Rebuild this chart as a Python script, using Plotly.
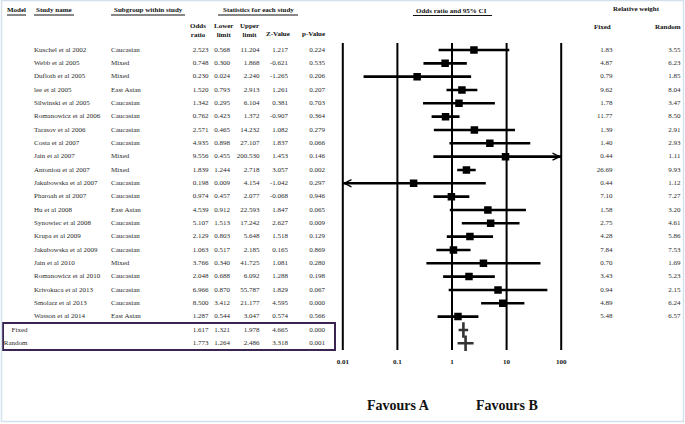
import plotly.graph_objects as go
import math

W, H = 685, 424

studies = ["Kuschel et al 2002", "Webb et al 2005", "Dufloth et al 2005", "lee et al 2005",
           "Silwinski et al 2005", "Romanowicz et al 2006", "Tarasov et al 2006", "Costa et al 2007",
           "Jain et al 2007", "Antoniou et al 2007", "Jakubowska et al 2007", "Pharoah et al 2007",
           "Hu et al 2008", "Synowiec et al 2008", "Krupa et al 2009", "Jakubowska et al 2009",
           "Jain et al 2010", "Romanowicz et al 2010", "Krivokuca et al 2013", "Smolarz et al 2013",
           "Wasson et al 2014"]
subgroups = ["Caucasian", "Mixed", "Mixed", "East Asian", "Caucasian", "Caucasian", "Caucasian",
             "Caucasian", "Mixed", "Mixed", "Caucasian", "Caucasian", "East Asian", "Caucasian",
             "Caucasian", "Caucasian", "Mixed", "Caucasian", "Caucasian", "Caucasian", "East Asian"]
odds_ratio = [2.523, 0.748, 0.230, 1.520, 1.342, 0.762, 2.571, 4.935, 9.556, 1.839, 0.198, 0.974,
              4.539, 5.107, 2.129, 1.063, 3.766, 2.048, 6.966, 8.500, 1.287]
lower_limit = [0.568, 0.300, 0.024, 0.793, 0.295, 0.423, 0.465, 0.898, 0.455, 1.244, 0.009, 0.457,
               0.912, 1.513, 0.803, 0.517, 0.340, 0.688, 0.870, 3.412, 0.544]
upper_limit = [11.204, 1.868, 2.240, 2.913, 6.104, 1.372, 14.232, 27.107, 200.530, 2.718, 4.154,
               2.077, 22.593, 17.242, 5.648, 2.185, 41.725, 6.092, 55.787, 21.177, 3.047]
z_value = [1.217, -0.621, -1.265, 1.261, 0.381, -0.907, 1.082, 1.837, 1.453, 3.057, -1.042, -0.068,
           1.847, 2.627, 1.518, 0.165, 1.081, 1.288, 1.829, 4.595, 0.574]
p_value = [0.224, 0.535, 0.206, 0.207, 0.703, 0.364, 0.279, 0.066, 0.146, 0.002, 0.297, 0.946,
           0.065, 0.009, 0.129, 0.869, 0.280, 0.198, 0.067, 0.000, 0.566]
weight_fixed = [1.83, 4.87, 0.79, 9.62, 1.78, 11.77, 1.39, 1.40, 0.44, 26.69, 0.44, 7.10, 1.58,
                2.75, 4.28, 7.84, 0.70, 3.43, 0.94, 4.89, 5.48]
weight_random = [3.55, 6.23, 1.85, 8.04, 3.47, 8.50, 2.91, 2.93, 1.11, 9.93, 1.12, 7.27, 3.20,
                 4.61, 5.86, 7.53, 1.69, 5.23, 2.15, 6.24, 6.57]

summary_models = ["Fixed", "Random"]
summary_or = [1.617, 1.773]
summary_lower = [1.321, 1.264]
summary_upper = [1.978, 2.486]
summary_z = [4.665, 3.318]
summary_p = [0.000, 0.001]

tick_vals = [0.01, 0.1, 1, 10, 100]
tick_labels = ["0.01", "0.1", "1", "10", "100"]
x_min, x_max = 0.01, 100

# ---- layout geometry (pixels) ----
ROW0, STEP = 50.0, 13.33
FONT = "Liberation Serif, Times New Roman, serif"
TXT = "#2a2a2a"

n = len(studies)
rows = list(range(n))
sum_rows = [n, n + 1]

def px_x(p):
    return p / W

def px_y(p):
    return 1 - p / H

fig = go.Figure()

# ---- table text (x2 axis is pixel-based) ----
def text_col(xpos, rowsy, texts, pos, size=7, bold=False, color=TXT):
    t = [f"<b>{s}</b>" if bold else s for s in texts]
    fig.add_trace(go.Scatter(x=[xpos] * len(rowsy), y=rowsy, text=t, mode="text",
                             textposition=pos, xaxis="x2", yaxis="y", cliponaxis=False,
                             textfont=dict(family=FONT, size=size, color=color),
                             hoverinfo="skip", showlegend=False))

f3 = lambda v: f"{v:.3f}"
f2 = lambda v: f"{v:.2f}"

text_col(34, rows, studies, "middle right")
text_col(111, rows, subgroups, "middle right")
text_col(208.5, rows, [f3(v) for v in odds_ratio], "middle left")
text_col(230, rows, [f3(v) for v in lower_limit], "middle left")
text_col(259.5, rows, [f3(v) for v in upper_limit], "middle left")
text_col(288, rows, [f3(v) for v in z_value], "middle left")
text_col(325, rows, [f3(v) for v in p_value], "middle left")
text_col(612.5, rows, [f2(v) for v in weight_fixed], "middle left")
text_col(680.5, rows, [f2(v) for v in weight_random], "middle left")

text_col(27.5, sum_rows, summary_models, "middle left")
text_col(208.5, sum_rows, [f3(v) for v in summary_or], "middle left")
text_col(230, sum_rows, [f3(v) for v in summary_lower], "middle left")
text_col(259.5, sum_rows, [f3(v) for v in summary_upper], "middle left")
text_col(288, sum_rows, [f3(v) for v in summary_z], "middle left")
text_col(325, sum_rows, [f3(v) for v in summary_p], "middle left")

# ---- forest plot ----
top_row = (43 - ROW0) / STEP
bot_row = (350 - ROW0) / STEP
vx, vy = [], []
for t in tick_vals:
    vx += [t, t, None]
    vy += [top_row, bot_row, None]
fig.add_trace(go.Scatter(x=vx, y=vy, mode="lines", line=dict(color="black", width=2),
                         hoverinfo="skip", showlegend=False))

cx, cy = [], []
for i in rows:
    lo = max(lower_limit[i], x_min)
    hi = min(upper_limit[i], x_max)
    cx += [lo, hi, None]
    cy += [i, i, None]
fig.add_trace(go.Scatter(x=cx, y=cy, mode="lines", line=dict(color="black", width=2.6),
                         hoverinfo="skip", showlegend=False))
fig.add_trace(go.Scatter(x=odds_ratio, y=rows, mode="markers",
                         marker=dict(symbol="square", size=7.5, color="black"),
                         hoverinfo="skip", showlegend=False))

# arrows for clipped CIs
annotations = []
for i in rows:
    if upper_limit[i] > x_max:
        annotations.append(dict(x=math.log10(x_max), y=i, xref="x", yref="y", ax=-7, ay=0,
                                showarrow=True, arrowhead=5, arrowsize=1.4, arrowwidth=1,
                                arrowcolor="black", text=""))
    if lower_limit[i] < x_min:
        annotations.append(dict(x=math.log10(x_min), y=i, xref="x", yref="y", ax=7, ay=0,
                                showarrow=True, arrowhead=5, arrowsize=1.4, arrowwidth=1,
                                arrowcolor="black", text=""))

# summary plus signs
sx, sy = [], []
for k, r in enumerate(sum_rows):
    sx += [summary_lower[k], summary_upper[k], None]
    sy += [r, r, None]
fig.add_trace(go.Scatter(x=sx, y=sy, mode="lines", line=dict(color="#333333", width=2.6),
                         hoverinfo="skip", showlegend=False))
fig.add_trace(go.Scatter(x=summary_or, y=sum_rows, mode="markers",
                         marker=dict(symbol="line-ns", size=11,
                                     line=dict(color="#333333", width=2.6)),
                         hoverinfo="skip", showlegend=False))

# ---- header annotations ----
def hdr(text, xc, yc, size=7, bold=True, xanchor="center"):
    annotations.append(dict(text=f"<b>{text}</b>" if bold else text, x=px_x(xc), y=px_y(yc),
                            xref="paper", yref="paper", showarrow=False, xanchor=xanchor,
                            yanchor="middle", font=dict(family=FONT, size=size, color="#111")))

hdr("Model", 16.5, 10)
hdr("Study name", 53.5, 10)
hdr("Subgroup within study", 148, 10)
hdr("Statistics for each study", 258, 10)
hdr("Odds<br>ratio", 198, 30)
hdr("Lower<br>limit", 223, 30)
hdr("Upper<br>limit", 249.5, 30)
hdr("Z-Value", 278, 34)
hdr("p-Value", 313.5, 34)
hdr("Odds ratio and 95% CI", 452, 11)
hdr("Relative weight", 636, 9)
hdr("Fixed", 602, 27)
hdr("Random", 668, 27)
hdr("Favours A", 398, 405, size=14)
hdr("Favours B", 507, 405, size=14)

shapes = []
def uline(x0, x1, y):
    shapes.append(dict(type="line", xref="paper", yref="paper", x0=px_x(x0), x1=px_x(x1),
                       y0=px_y(y), y1=px_y(y), line=dict(color="#111", width=1)))

uline(7, 26, 15)
uline(34, 74, 15)
uline(111, 185, 15)
uline(218, 298, 15)
uline(413, 492, 15.5)

# summary box
shapes.append(dict(type="rect", xref="paper", yref="paper", x0=px_x(3), x1=px_x(335),
                   y0=px_y(323), y1=px_y(350), line=dict(color="#3b2352", width=2)))
# faint outer frame
shapes.append(dict(type="rect", xref="paper", yref="paper", x0=px_x(1.5), x1=px_x(683.5),
                   y0=px_y(0.5), y1=px_y(421.5), line=dict(color="#d3e1ef", width=1.5)))

lo_log, hi_log = -2.1, 2.1
dec = 54.6
x_left = 452 + lo_log * dec
x_right = 452 + hi_log * dec

fig.update_layout(
    width=W, height=H, margin=dict(l=0, r=0, t=0, b=0),
    paper_bgcolor="white", plot_bgcolor="rgba(0,0,0,0)",
    showlegend=False,
    xaxis=dict(type="log", range=[lo_log, hi_log], domain=[px_x(x_left), px_x(x_right)],
               anchor="free", position=px_y(356), showgrid=False, zeroline=False,
               showline=False, ticks="", tickvals=tick_vals,
               ticktext=[f"<b>{t}</b>" for t in tick_labels],
               tickfont=dict(family=FONT, size=7, color="#111")),
    xaxis2=dict(range=[0, W], domain=[0, 1], anchor="y", visible=False, showgrid=False,
                zeroline=False),
    yaxis=dict(range=[(H - ROW0) / STEP, -ROW0 / STEP], domain=[0, 1], visible=False,
               showgrid=False, zeroline=False, anchor="x2"),
    annotations=annotations,
    shapes=shapes,
)

fig.write_html("out.html", config={"displayModeBar": False},
               post_script="document.body.style.margin='0px';document.body.style.overflow='hidden';")
